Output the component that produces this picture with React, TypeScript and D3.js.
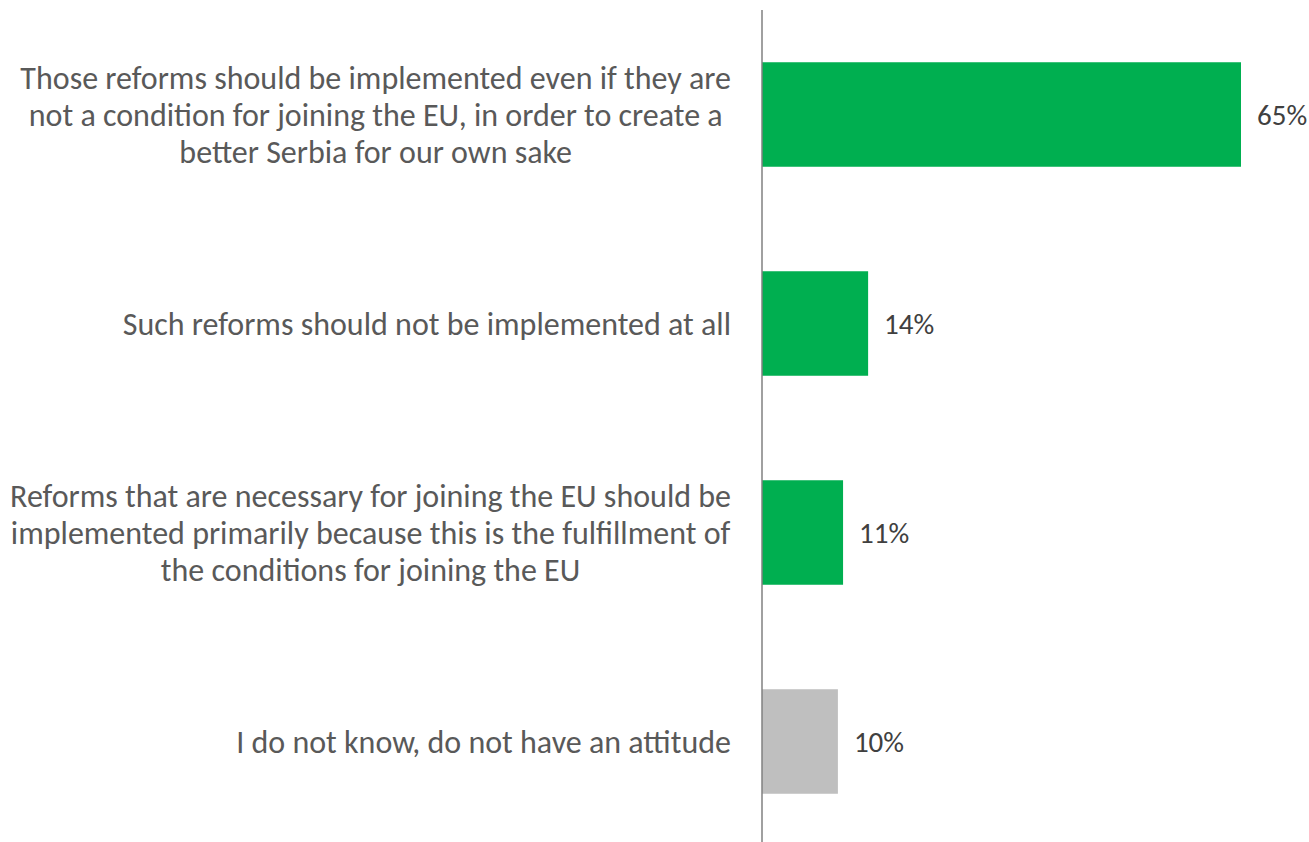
import React from "react";
import * as d3 from "d3";

const categories: string[][] = [
  ["Those reforms should be implemented even if they are", "not a condition for joining the EU, in order to create a", "better Serbia for our own sake"],
  ["Such reforms should not be implemented at all"],
  ["Reforms that are necessary for joining the EU should be", "implemented primarily because this is the fulfillment of", "the conditions for joining the EU"],
  ["I do not know, do not have an attitude"],
];
const values: number[] = [65, 14.4, 11, 10.3];
const barColors: string[] = ["#00AF50", "#00AF50", "#00AF50", "#BFBFBF"];

const W = 1309;
const H = 842;
const FONT = "Carlito, Calibri, 'Liberation Sans', sans-serif";
const CAT_SIZE = 32;

let ctx: CanvasRenderingContext2D | null = null;
function measure(t: string): number {
  if (!ctx) ctx = document.createElement("canvas").getContext("2d");
  if (!ctx) return t.length * CAT_SIZE * 0.45;
  ctx.font = `${CAT_SIZE}px Carlito, Calibri, sans-serif`;
  return ctx.measureText(t).width;
}

export default function App() {
  const ids = categories.map((_, i) => String(i));
  const y = d3.scaleBand<string>().domain(ids).range([10, 846]).paddingInner(0.5).paddingOuter(0.25);
  const x = d3.scaleLinear().domain([0, 65]).range([762, 1241]);
  const fmt = (v: number) => d3.format(".0f")(v) + "%";
  const lineH = 37;
  const labelRight = x(0) - 31;

  return (
    <svg width={W} height={H} style={{ position: "absolute", left: 0, top: 0 }} fontFamily={FONT}>
      <rect x={0} y={0} width={W} height={H} fill="#ffffff" />
      {values.map((v, i) => {
        const y0 = y(ids[i])!;
        const cy = y0 + y.bandwidth() / 2;
        const lines = categories[i];
        const blockW = d3.max(lines, measure) || 0;
        const cx = labelRight - blockW / 2;
        return (
          <g key={i}>
            <rect x={x(0)} y={y0} width={x(v) - x(0)} height={y.bandwidth()} fill={barColors[i]} />
            <text x={x(v) + 16} y={cy} dy="0.35em" fontSize={29} fill="#404040">
              {fmt(v)}
            </text>
            <text fontSize={CAT_SIZE} fill="#595959" textAnchor="middle">
              {lines.map((line, j) => (
                <tspan key={j} x={cx} y={cy + (j - (lines.length - 1) / 2) * lineH} dy="0.35em">
                  {line}
                </tspan>
              ))}
            </text>
          </g>
        );
      })}
      <line x1={x(0)} x2={x(0)} y1={10} y2={H} stroke="#808080" strokeWidth={1.5} />
    </svg>
  );
}
